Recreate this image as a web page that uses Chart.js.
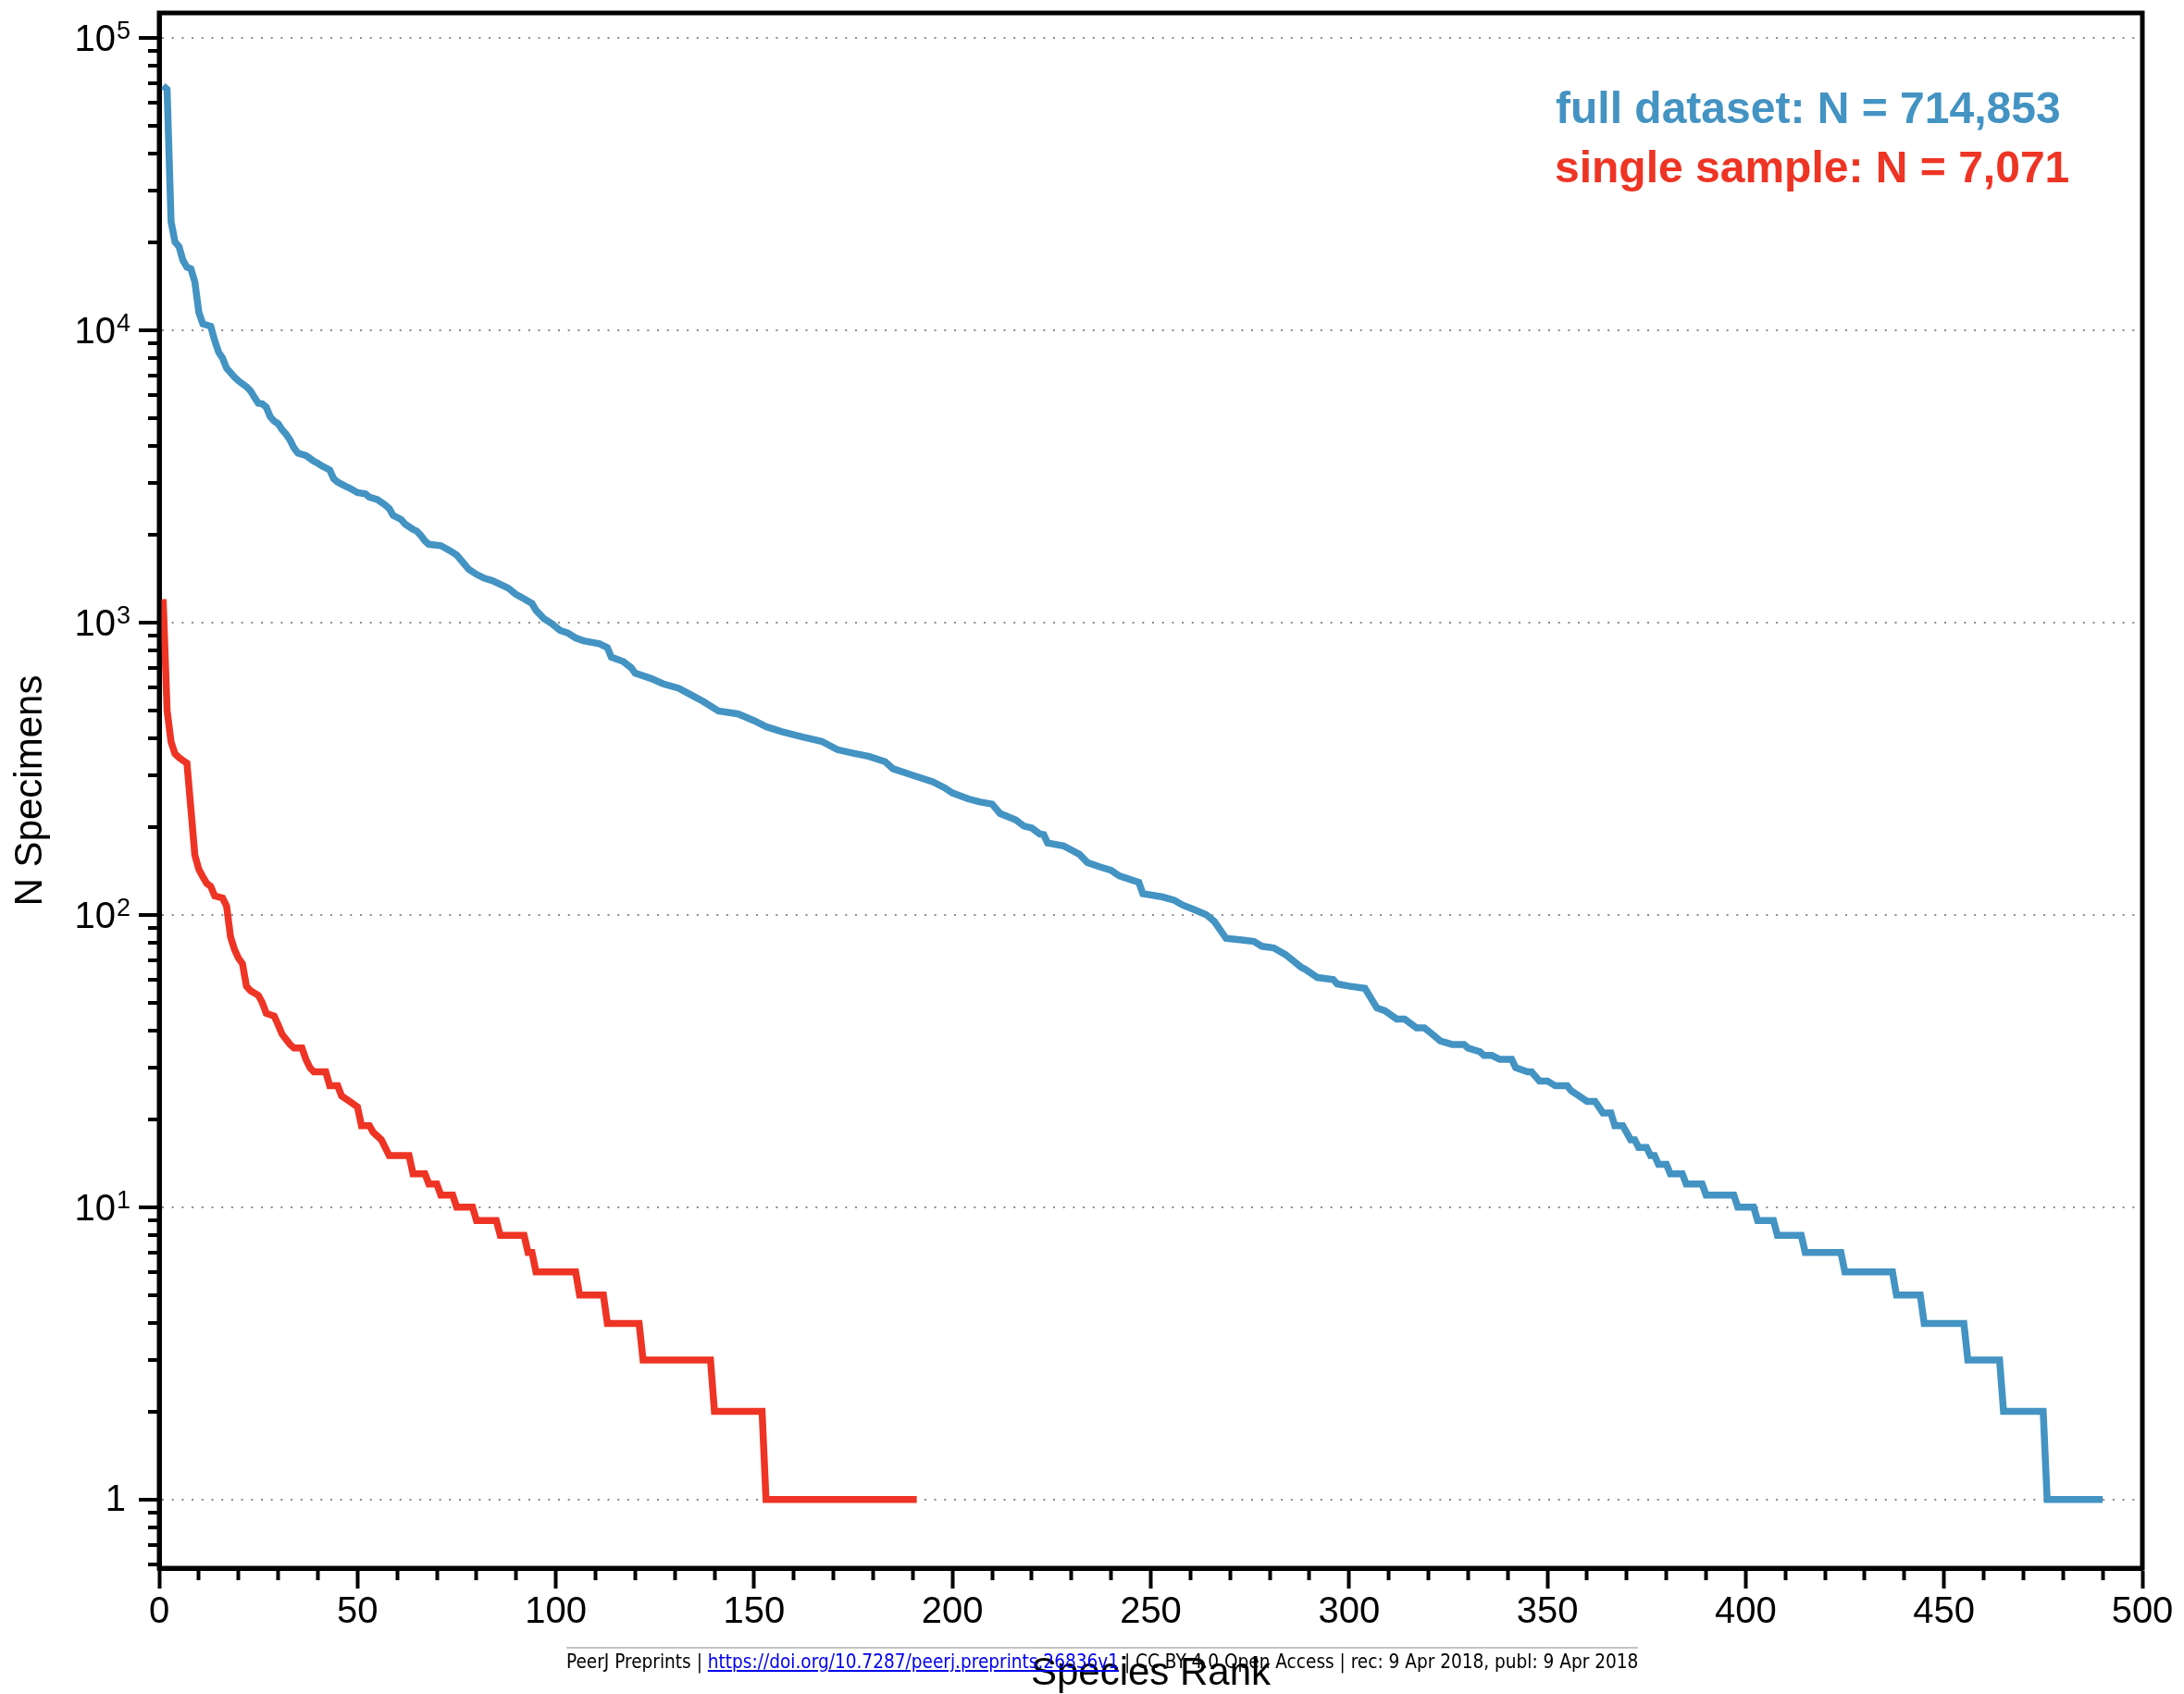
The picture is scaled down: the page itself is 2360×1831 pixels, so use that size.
<!DOCTYPE html>
<html>
<head>
<meta charset="utf-8">
<script src="https://cdn.jsdelivr.net/npm/chart.js@4.4.1/dist/chart.umd.min.js"></script>
<style>
  html, body { margin: 0; padding: 0; background: #fff; }
  #wrap { position: relative; width: 2360px; height: 1831px; overflow: hidden; }
  #footer {
    position: absolute; left: 612px; top: 1780px;
    border-top: 2px solid #c4c4c4; padding-top: 2px;
    font-family: 'DejaVu Sans Condensed', 'DejaVu Sans', sans-serif; font-stretch: condensed;
    font-size: 20.6px; white-space: nowrap; color: #000;
  }
  #footer a { color: #0000ee; text-decoration: underline; }
</style>
</head>
<body>
<div id="wrap">
  <canvas id="rankChart" width="2360" height="1831"></canvas>
  <div id="footer">PeerJ Preprints | <a href="https://doi.org/10.7287/peerj.preprints.26836v1">https://doi.org/10.7287/peerj.preprints.26836v1</a> | CC BY 4.0 Open Access | rec: 9 Apr 2018, publ: 9 Apr 2018</div>
</div>
<script>
// rank / abundance vertices
const blueRanks = [1, 2, 3, 4, 5, 6, 7, 8, 9, 10, 11, 13, 14, 15, 16, 17, 18, 19, 20, 22,
  23, 24, 25, 26, 27, 28, 29, 30, 31, 32, 33, 34, 35, 37, 38, 39, 40, 41, 43, 44,
  45, 47, 48, 50, 52, 53, 55, 57, 58, 59, 61, 62, 64, 65, 66, 67, 68, 71, 73, 75,
  77, 78, 80, 82, 84, 86, 88, 90, 91, 94, 95, 97, 99, 101, 103, 105, 107, 111, 113, 114,
  117, 119, 120, 124, 127, 131, 134, 137, 141, 146, 150, 153, 157, 162, 167, 171, 175, 179, 183, 185,
  190, 195, 198, 200, 204, 207, 210, 212, 216, 218, 220, 222, 223, 224, 228, 232, 234, 237, 240, 242,
  247, 248, 253, 256, 258, 261, 264, 266, 269, 273, 276, 278, 281, 284, 288, 289, 292, 296, 297, 300,
  304, 307, 309, 312, 314, 317, 319, 321, 323, 326, 329, 330, 333, 334, 336, 338, 341, 342, 345, 346,
  348, 350, 352, 355, 356, 358, 360, 362, 364, 366, 367, 369, 371, 372, 373, 375, 376, 377, 378, 380,
  381, 384, 385, 389, 390, 397, 398, 402, 403, 407, 408, 414, 415, 424, 425, 437, 438, 444, 445, 455,
  456, 464, 465, 475, 476, 490];
const blueCounts = [68500, 66500, 23500, 20000, 19300, 17300, 16400, 16200, 14600, 11500, 10500, 10300, 9200, 8400, 8000, 7400, 7150, 6900, 6700, 6400,
  6200, 5900, 5620, 5590, 5450, 5050, 4880, 4780, 4560, 4400, 4200, 3950, 3790, 3720, 3640, 3560, 3500, 3430, 3320, 3100,
  3020, 2920, 2880, 2780, 2750, 2680, 2630, 2520, 2450, 2320, 2250, 2170, 2080, 2050, 1980, 1900, 1850, 1830, 1770, 1700,
  1580, 1520, 1460, 1415, 1390, 1350, 1310, 1245, 1225, 1160, 1100, 1030, 990, 940, 920, 885, 865, 845, 820, 760,
  735, 700, 670, 643, 617, 595, 566, 538, 498, 486, 461, 440, 423, 406, 392, 367, 357, 348, 334, 316,
  300, 285, 272, 261, 249, 243, 239, 222, 211, 201, 198, 189, 188, 176, 172, 161, 151, 146, 142, 136,
  129, 118, 115, 112, 108, 104, 100, 95, 83, 82, 81, 78, 77, 73, 66, 65, 61, 60, 58, 57,
  56, 48, 47, 44, 44, 41, 41, 39, 37, 36, 36, 35, 34, 33, 33, 32, 32, 30, 29, 29,
  27, 27, 26, 26, 25, 24, 23, 23, 21, 21, 19, 19, 17, 17, 16, 16, 15, 15, 14, 14,
  13, 13, 12, 12, 11, 11, 10, 10, 9, 9, 8, 8, 7, 7, 6, 6, 5, 5, 4, 4,
  3, 3, 2, 2, 1, 1];

const redRanks = [1, 2, 3, 4, 5, 6, 7, 8, 9, 10, 11, 12, 13, 14, 16, 17, 18, 19, 20, 21,
  22, 23, 25, 26, 27, 29, 30, 31, 33, 34, 36, 37, 38, 39, 42, 43, 45, 46, 48, 50,
  51, 53, 54, 56, 58, 63, 64, 67, 68, 70, 71, 74, 75, 79, 80, 85, 86, 92, 93, 94,
  95, 105, 106, 112, 113, 121, 122, 139, 140, 152, 153, 191];
const redCounts = [1200, 500, 390, 355, 345, 337, 330, 230, 160, 143, 135, 128, 125, 116, 114, 107, 84, 76, 71, 68,
  57, 55, 53, 50, 46, 45, 42, 39, 36, 35, 35, 32, 30, 29, 29, 26, 26, 24, 23, 22,
  19, 19, 18, 17, 15, 15, 13, 13, 12, 12, 11, 11, 10, 10, 9, 9, 8, 8, 7, 7,
  6, 6, 5, 5, 4, 4, 3, 3, 2, 2, 1, 1];

const xMajorTicks = [0, 50, 100, 150, 200, 250, 300, 350, 400, 450, 500];
const yMajorTicks = [1, 10, 100, 1000, 10000, 100000];
const yTickBases = ['1', '10', '10', '10', '10', '10'];
const yTickExps = ['', '1', '2', '3', '4', '5'];
const yMinorFactors = [2, 3, 4, 5, 6, 7, 8, 9];

const fullLabel = 'full dataset: N = 714,853';
const sampleLabel = 'single sample: N = 7,071';

const BLUE = '#4393c3';
const RED = '#ee3424';
const FONT = '"Liberation Sans", Arial, Helvetica, sans-serif';

// tick positions of the log axis: decades plus 2..9 in between, 0.6..0.9 below 1
const yTickValues = [0.6, 0.7, 0.8, 0.9];
yMajorTicks.forEach((m) => {
  yTickValues.push(m);
  if (m < 100000) yMinorFactors.forEach((f) => yTickValues.push(m * f));
});

const isMajorY = (v) => yMajorTicks.includes(v);
const tickVal = (c) => (c.tick ? c.tick.value : 0);

// frame, log tick labels with superscripts and the two N annotations
const frameAndLabels = {
  id: 'frameAndLabels',
  afterDraw(chart) {
    const { ctx, chartArea: a, scales } = chart;
    const y = scales.y;
    ctx.save();
    ctx.strokeStyle = '#000';
    ctx.lineWidth = 5;
    ctx.strokeRect(a.left, a.top, a.right - a.left, a.bottom - a.top);

    ctx.fillStyle = '#000';
    ctx.textAlign = 'right';
    yMajorTicks.forEach((v, i) => {
      const py = y.getPixelForValue(v);
      if (!yTickExps[i]) {
        ctx.font = '40px ' + FONT;
        ctx.textBaseline = 'middle';
        ctx.fillText(yTickBases[i], 136, py + 1);
        return;
      }
      ctx.textBaseline = 'alphabetic';
      ctx.font = '27px ' + FONT;
      ctx.fillText(yTickExps[i], 141, py + 1);
      const w = ctx.measureText(yTickExps[i]).width;
      ctx.font = '40px ' + FONT;
      ctx.fillText(yTickBases[i], 141 - w - 1, py + 14.5);
    });

    ctx.textAlign = 'left';
    ctx.textBaseline = 'alphabetic';
    ctx.font = 'bold 48px ' + FONT;
    ctx.fillStyle = BLUE;
    ctx.fillText(fullLabel, 1681, 133);
    ctx.fillStyle = RED;
    ctx.fillText(sampleLabel, 1680, 197);
    ctx.restore();
  }
};

const toPoints = (xs, ys) => xs.map((x, i) => ({ x, y: ys[i] }));

const ctx = document.getElementById('rankChart').getContext('2d');
const chart = new Chart(ctx, {
  type: 'line',
  data: {
    datasets: [
      {
        label: 'full dataset',
        data: toPoints(blueRanks, blueCounts),
        borderColor: BLUE,
        borderWidth: 7.5,
        pointRadius: 0,
        tension: 0,
        fill: false,
        borderJoinStyle: 'miter',
        borderCapStyle: 'butt'
      },
      {
        label: 'single sample',
        data: toPoints(redRanks, redCounts),
        borderColor: RED,
        borderWidth: 7.5,
        pointRadius: 0,
        tension: 0,
        fill: false,
        borderJoinStyle: 'miter',
        borderCapStyle: 'butt'
      }
    ]
  },
  options: {
    responsive: false,
    animation: false,
    devicePixelRatio: 1,
    layout: { padding: { top: 14, right: 45, left: 0, bottom: 0 } },
    plugins: { legend: { display: false }, tooltip: { enabled: false } },
    scales: {
      x: {
        type: 'linear',
        min: 0,
        max: 500,
        ticks: {
          stepSize: 10,
          autoSkip: false,
          maxRotation: 0,
          padding: 2,
          color: '#000',
          font: { family: FONT, size: 40 },
          callback: (v) => (xMajorTicks.includes(v) ? String(v) : '')
        },
        grid: {
          drawOnChartArea: false,
          tickLength: 22,
          tickColor: '#000',
          tickWidth: 4,
          tickBorderDash: (c) => (xMajorTicks.includes(tickVal(c)) ? [] : [10, 100])
        },
        border: { display: true, color: '#000', width: 5 },
        title: {
          display: true,
          text: 'Species Rank',
          color: '#000',
          font: { family: FONT, size: 42, lineHeight: 1 },
          padding: 1
        },
        afterFit: (s) => { s.height = 136; }
      },
      y: {
        type: 'logarithmic',
        min: 0.582,
        max: 121500,
        afterBuildTicks: (s) => {
          s.ticks = yTickValues.map((v) => ({ value: v, major: isMajorY(v) }));
        },
        ticks: { autoSkip: false, padding: 0, callback: () => '' },
        grid: {
          color: (c) => (isMajorY(tickVal(c)) ? '#8a8a8a' : 'rgba(0,0,0,0)'),
          lineWidth: 2,
          tickLength: 22,
          tickColor: '#000',
          tickWidth: 4,
          tickBorderDash: (c) => (isMajorY(tickVal(c)) ? [] : [0, 10, 12, 100])
        },
        border: { display: true, color: '#000', width: 5, dash: [2, 8.7] },
        title: {
          display: true,
          text: 'N Specimens',
          color: '#000',
          font: { family: FONT, size: 42, lineHeight: 1.2 },
          padding: { top: 8, bottom: 8 }
        },
        afterFit: (s) => { s.width = 172; }
      }
    }
  },
  plugins: [frameAndLabels]
});
</script>
</body>
</html>
